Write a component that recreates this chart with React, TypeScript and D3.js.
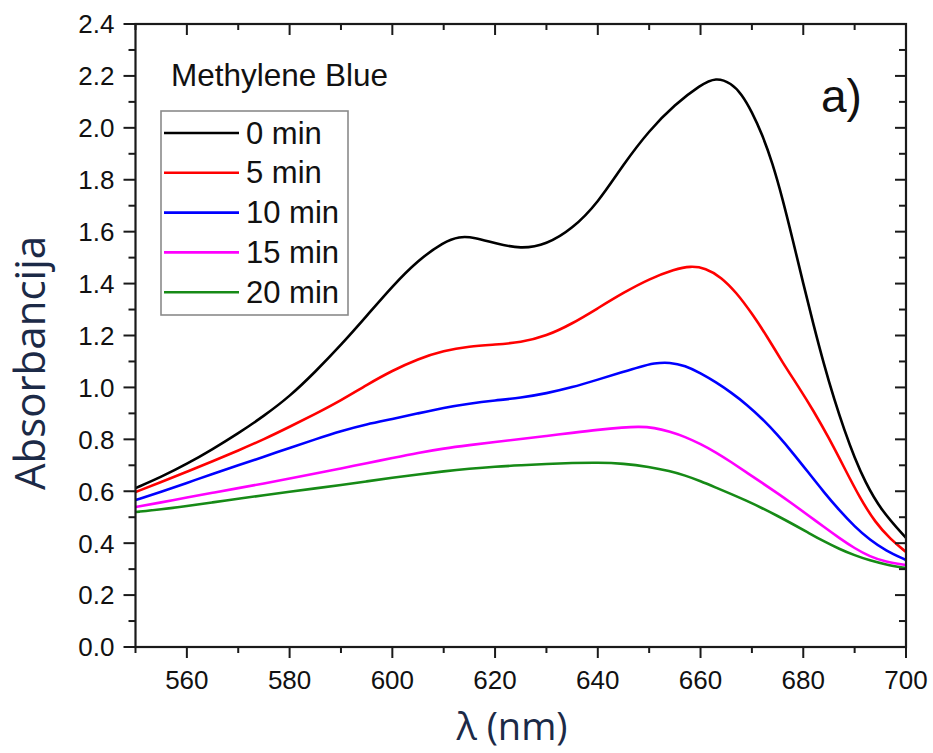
import React from "react";
import * as d3 from "d3";

// 0 min
const wl0 = [550, 555, 560, 565, 570, 575, 580, 585, 590, 595, 600, 605, 610, 613, 616, 620, 625, 630, 635, 640, 645, 650, 655, 660, 663, 666, 668, 670, 672, 674, 676, 678, 680, 682, 684, 686, 688, 690, 692, 695, 700];
const abs0 = [0.612, 0.655, 0.705, 0.762, 0.823, 0.89, 0.965, 1.06, 1.163, 1.275, 1.39, 1.49, 1.56, 1.582, 1.578, 1.555, 1.533, 1.55, 1.61, 1.71, 1.86, 1.99, 2.09, 2.165, 2.195, 2.172, 2.13, 2.062, 1.975, 1.865, 1.725, 1.565, 1.40, 1.24, 1.09, 0.955, 0.835, 0.728, 0.638, 0.53, 0.42];
// 5 min
const wl5 = [550, 555, 560, 565, 570, 575, 580, 585, 590, 595, 600, 605, 610, 615, 620, 625, 630, 635, 640, 645, 650, 655, 658, 661, 664, 667, 670, 673, 676, 679, 682, 685, 688, 691, 694, 697, 700];
const abs5 = [0.597, 0.635, 0.675, 0.715, 0.757, 0.8, 0.848, 0.898, 0.95, 1.01, 1.065, 1.11, 1.142, 1.158, 1.165, 1.173, 1.198, 1.245, 1.305, 1.365, 1.418, 1.455, 1.468, 1.46, 1.425, 1.365, 1.285, 1.195, 1.095, 1.005, 0.91, 0.805, 0.69, 0.575, 0.48, 0.415, 0.366];
// 10 min
const wl10 = [550, 555, 560, 565, 570, 575, 580, 585, 590, 595, 600, 605, 610, 615, 620, 625, 630, 635, 640, 645, 648, 651, 654, 657, 660, 663, 666, 669, 672, 675, 678, 681, 684, 687, 690, 693, 696, 700];
const abs10 = [0.566, 0.598, 0.632, 0.667, 0.7, 0.733, 0.767, 0.8, 0.832, 0.858, 0.878, 0.9, 0.922, 0.938, 0.95, 0.96, 0.977, 1.0, 1.03, 1.06, 1.078, 1.094, 1.097, 1.084, 1.055, 1.02, 0.98, 0.934, 0.88, 0.817, 0.747, 0.672, 0.597, 0.527, 0.464, 0.412, 0.372, 0.335];
// 15 min
const wl15 = [550, 555, 560, 565, 570, 575, 580, 585, 590, 595, 600, 605, 610, 615, 620, 625, 630, 635, 640, 645, 648, 651, 654, 657, 660, 663, 666, 669, 672, 675, 678, 681, 684, 687, 690, 693, 696, 700];
const abs15 = [0.539, 0.557, 0.576, 0.594, 0.612, 0.63, 0.649, 0.668, 0.688, 0.708, 0.728, 0.748, 0.765, 0.778, 0.79, 0.801, 0.813, 0.825, 0.837, 0.846, 0.849, 0.845, 0.83, 0.81, 0.782, 0.75, 0.712, 0.672, 0.632, 0.592, 0.55, 0.507, 0.463, 0.42, 0.38, 0.348, 0.328, 0.316];
// 20 min
const wl20 = [550, 555, 560, 565, 570, 575, 580, 585, 590, 595, 600, 605, 610, 615, 620, 625, 630, 635, 640, 645, 650, 654, 657, 660, 663, 666, 669, 672, 675, 678, 681, 684, 687, 690, 693, 696, 700];
const abs20 = [0.52, 0.53, 0.543, 0.557, 0.571, 0.585, 0.598, 0.611, 0.624, 0.638, 0.652, 0.665, 0.677, 0.687, 0.695, 0.7, 0.705, 0.709, 0.711, 0.707, 0.694, 0.678, 0.661, 0.639, 0.614, 0.589, 0.563, 0.535, 0.505, 0.473, 0.44, 0.407, 0.378, 0.353, 0.333, 0.318, 0.304];

const seriesNames = ["0 min", "5 min", "10 min", "15 min", "20 min"];
const seriesWavelengths = [wl0, wl5, wl10, wl15, wl20];
const seriesValues = [abs0, abs5, abs10, abs15, abs20];
const seriesColors = ["#000000", "#ff0000", "#0000ff", "#ff00ff", "#168a16"];

const xMajorTicks = [560, 580, 600, 620, 640, 660, 680, 700];
const xMinorTicks = [550, 570, 590, 610, 630, 650, 670, 690];
const yMajorTicks = [0, 0.2, 0.4, 0.6, 0.8, 1.0, 1.2, 1.4, 1.6, 1.8, 2.0, 2.2, 2.4];
const yMinorTicks = [0.1, 0.3, 0.5, 0.7, 0.9, 1.1, 1.3, 1.5, 1.7, 1.9, 2.1, 2.3];

const W = 933;
const H = 753;
const L = 135.5, R = 906, T = 24, B = 647;

export default function App() {
  const x = d3.scaleLinear().domain([550, 700]).range([L, R]);
  const y = d3.scaleLinear().domain([0, 2.4]).range([B, T]);
  const line = d3
    .line<[number, number]>()
    .x((d) => x(d[0]))
    .y((d) => y(d[1]))
    .curve(d3.curveBasis);

  const tickFont = "'Liberation Sans', Arial, sans-serif";
  const axisColor = "#1a1a1a";
  const titleColor = "#1c2a47";

  return (
    <div style={{ position: "absolute", left: 0, top: 0 }}>
      <svg width={W} height={H} style={{ display: "block", background: "#fff" }}>
        <defs>
          <clipPath id="plotclip">
            <rect x={L} y={T} width={R - L} height={B - T} />
          </clipPath>
        </defs>
        <g clipPath="url(#plotclip)">
          {seriesValues.map((vals, i) => (
            <path
              key={seriesNames[i]}
              d={line(seriesWavelengths[i].map((w, j) => [w, vals[j]] as [number, number])) || ""}
              fill="none"
              stroke={seriesColors[i]}
              strokeWidth={2.6}
            />
          ))}
        </g>
        <rect x={L} y={T} width={R - L} height={B - T} fill="none" stroke={axisColor} strokeWidth={2.2} />
        {xMajorTicks.map((t) => (
          <g key={"xM" + t}>
            <line x1={x(t)} x2={x(t)} y1={B} y2={B + 11} stroke={axisColor} strokeWidth={2} />
            <line x1={x(t)} x2={x(t)} y1={T} y2={T + 11} stroke={axisColor} strokeWidth={2} />
            <text x={x(t)} y={B + 42} textAnchor="middle" fontFamily={tickFont} fontSize={26} fill="#111">
              {t}
            </text>
          </g>
        ))}
        {xMinorTicks.map((t) => (
          <g key={"xm" + t}>
            <line x1={x(t)} x2={x(t)} y1={B} y2={B + 6} stroke={axisColor} strokeWidth={2} />
            <line x1={x(t)} x2={x(t)} y1={T} y2={T + 6} stroke={axisColor} strokeWidth={2} />
          </g>
        ))}
        {yMajorTicks.map((t) => (
          <g key={"yM" + t}>
            <line x1={L - 12} x2={L} y1={y(t)} y2={y(t)} stroke={axisColor} strokeWidth={2} />
            <line x1={R - 11} x2={R} y1={y(t)} y2={y(t)} stroke={axisColor} strokeWidth={2} />
            <text x={L - 21} y={y(t)} dy="0.36em" textAnchor="end" fontFamily={tickFont} fontSize={26} fill="#111">
              {t.toFixed(1)}
            </text>
          </g>
        ))}
        {yMinorTicks.map((t) => (
          <g key={"ym" + t}>
            <line x1={L - 7} x2={L} y1={y(t)} y2={y(t)} stroke={axisColor} strokeWidth={2} />
            <line x1={R - 7} x2={R} y1={y(t)} y2={y(t)} stroke={axisColor} strokeWidth={2} />
          </g>
        ))}
        <text
          transform={`translate(45, 363) rotate(-90)`}
          textAnchor="middle"
          fontFamily="'Open Sans', 'Noto Sans', sans-serif"
          fontSize={42}
          fill={titleColor}
        >
          Absorbancija
        </text>
        <text
          x={512}
          y={740}
          textAnchor="middle"
          fontFamily="'Open Sans', 'Noto Sans', sans-serif"
          fontSize={38}
          fill={titleColor}
        >
          λ (nm)
        </text>
        <text x={171} y={86} fontFamily={tickFont} fontSize={31.5} fill="#111">
          Methylene Blue
        </text>
        <text x={821} y={112} fontFamily={tickFont} fontSize={46} fill="#111">
          a)
        </text>
        <rect x={161} y={111} width={187} height={204} fill="#fff" stroke="#8a8a8a" strokeWidth={1.6} />
        {seriesNames.map((name, i) => (
          <g key={"lg" + name}>
            <line x1={164} x2={239} y1={133 + i * 39.8} y2={133 + i * 39.8} stroke={seriesColors[i]} strokeWidth={2.6} />
            <text x={246} y={143.5 + i * 39.8} fontFamily={tickFont} fontSize={31} fill="#111">
              {name}
            </text>
          </g>
        ))}
      </svg>
    </div>
  );
}
